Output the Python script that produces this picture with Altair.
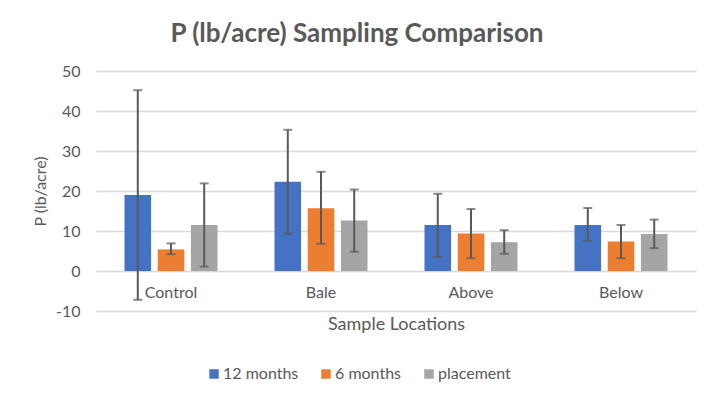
import altair as alt
import pandas as pd

categories = ["Control", "Bale", "Above", "Below"]
series = ["12 months", "6 months", "placement"]
colors = ["#4472C4", "#ED7D31", "#A5A5A5"]

vals_12 = [19.0, 22.3, 11.5, 11.5]
lo_12 = [-7.2, 9.3, 3.5, 7.5]
hi_12 = [45.2, 35.3, 19.3, 15.75]

vals_6 = [5.4, 15.7, 9.4, 7.4]
lo_6 = [4.2, 6.8, 3.2, 3.2]
hi_6 = [6.9, 24.8, 15.5, 11.5]

vals_pl = [11.5, 12.6, 7.2, 9.25]
lo_pl = [1.1, 4.8, 4.3, 5.7]
hi_pl = [21.9, 20.4, 10.2, 12.85]

y_ticks = [-10, 0, 10, 20, 30, 40, 50]

rows = []
for s, v, lo, hi in [("12 months", vals_12, lo_12, hi_12),
                     ("6 months", vals_6, lo_6, hi_6),
                     ("placement", vals_pl, lo_pl, hi_pl)]:
    for c, a, b, d in zip(categories, v, lo, hi):
        rows.append({"Location": c, "Series": s, "P": a, "lo": b, "hi": d})
df = pd.DataFrame(rows)

FONT = "Lato"
TXT = "#595959"

x_axis = alt.Axis(title="Sample Locations", orient="bottom", offset=-40,
                  domain=False, ticks=False, labelAngle=0,
                  labelPadding=13, titlePadding=15,
                  labelFontSize=16, titleFontSize=18,
                  labelColor=TXT, titleColor=TXT,
                  labelFont=FONT, titleFont=FONT, titleFontWeight="normal")
y_axis = alt.Axis(title="P (lb/acre)", values=y_ticks,
                  labelExpr="datum.value", labelOverlap=False,
                  domain=False, ticks=False, grid=True,
                  gridColor="#D9D9D9", gridWidth=1.3,
                  labelPadding=16, titlePadding=7,
                  labelFontSize=16, titleFontSize=16,
                  labelColor=TXT, titleColor=TXT,
                  labelFont=FONT, titleFont=FONT, titleFontWeight="normal")

x_scale = alt.Scale(paddingInner=0.38, paddingOuter=0.19)
x_enc = alt.X("Location:N", sort=categories, scale=x_scale, axis=x_axis)
xo = alt.XOffset("Series:N", sort=series,
                 scale=alt.Scale(paddingInner=0.2, paddingOuter=0.0))
y_scale = alt.Scale(domain=[-10, 50], nice=False, zero=False)

bars = alt.Chart(df).mark_bar().encode(
    x=x_enc,
    xOffset=xo,
    y=alt.Y("P:Q", scale=y_scale, axis=y_axis),
    y2=alt.datum(0),
    color=alt.Color("Series:N", sort=series,
                    scale=alt.Scale(domain=series, range=colors),
                    legend=alt.Legend(title=None, orient="none", direction="horizontal",
                                      legendX=110, legendY=295,
                                      symbolType="square", symbolSize=90,
                                      symbolStrokeWidth=0,
                                      labelFontSize=16, labelFont=FONT, labelColor=TXT,
                                      labelOffset=1, columnPadding=19)),
)

err = alt.Chart(df).mark_rule(color="#595959", strokeWidth=2).encode(
    x=x_enc,
    xOffset=xo,
    y=alt.Y("lo:Q", scale=y_scale, axis=y_axis),
    y2="hi:Q",
)
cap_lo = alt.Chart(df).mark_tick(color="#595959", thickness=2, size=9, orient="horizontal").encode(
    x=x_enc,
    xOffset=xo,
    y=alt.Y("lo:Q", scale=y_scale, axis=y_axis),
)
cap_hi = alt.Chart(df).mark_tick(color="#595959", thickness=2, size=9, orient="horizontal").encode(
    x=x_enc,
    xOffset=xo,
    y=alt.Y("hi:Q", scale=y_scale, axis=y_axis),
)

chart = alt.layer(bars, err, cap_lo, cap_hi).properties(
    width=600, height=240,
    title=alt.TitleParams("P (lb/acre) Sampling Comparison", font=FONT, fontSize=26,
                          fontWeight="bold", color=TXT, anchor="middle", dx=-39, offset=16),
    autosize=alt.AutoSizeParams(type="none"),
    padding={"left": 88, "top": 63, "right": 10, "bottom": 80},
).configure_view(stroke=None)

chart.save("out.html", embed_options={"renderer": "svg", "actions": False})
